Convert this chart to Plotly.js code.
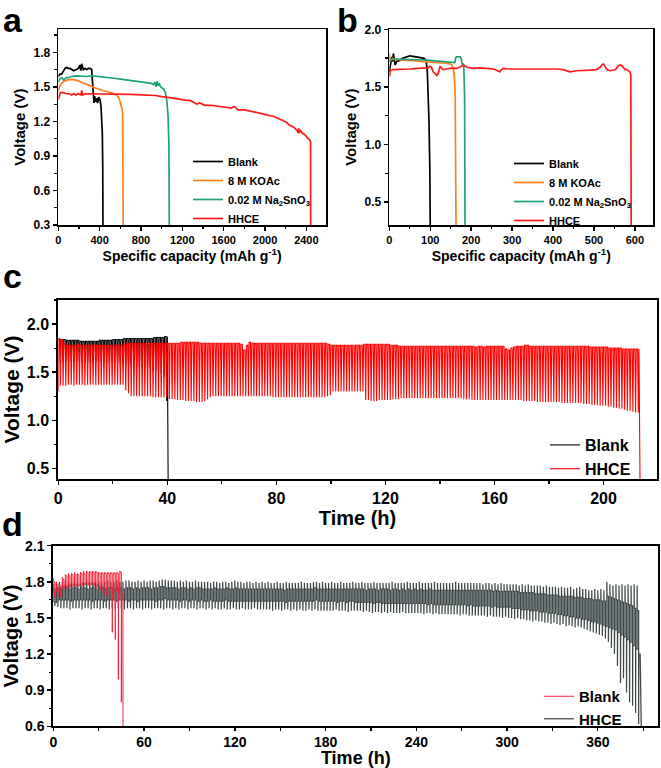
<!DOCTYPE html>
<html><head><meta charset="utf-8">
<script src="https://cdn.plot.ly/plotly-3.0.1.min.js"></script>
<style>html,body{margin:0;padding:0;background:#fff}#chart{width:661px;height:768px}</style>
</head><body><div id="chart"></div>
<script>
// ===== Panel a: voltage vs specific capacity =====
const aBlankCap = [0,15,32,50,65,81,95,113,130,150,177,195,210,218,226,242,260,275,290,306,323,330,339,345,352,360,371,380,390,403,413,420,426,430,432];
const aBlankV   = [1.59,1.61,1.61,1.64,1.66,1.67,1.66,1.66,1.65,1.64,1.65,1.66,1.69,1.64,1.70,1.65,1.66,1.65,1.66,1.66,1.65,1.55,1.41,1.36,1.42,1.37,1.40,1.36,1.41,1.39,1.33,1.25,1.10,0.80,0.30];
const aKOAcCap  = [0,10,32,60,90,130,160,200,250,300,360,420,480,530,560,580,595,605,615,622,626,628];
const aKOAcV    = [1.46,1.50,1.53,1.55,1.56,1.565,1.56,1.55,1.53,1.51,1.49,1.47,1.455,1.445,1.43,1.41,1.38,1.35,1.31,1.27,0.90,0.30];
const aNaCap    = [0,15,32,50,64,80,96,130,177,230,270,330,400,470,540,620,700,760,820,870,900,920,935,945,955,965,975,990,1005,1020,1036,1050,1062,1070,1074];
const aNaV      = [1.54,1.57,1.58,1.56,1.57,1.58,1.58,1.59,1.595,1.59,1.59,1.595,1.59,1.58,1.575,1.565,1.555,1.55,1.54,1.535,1.53,1.52,1.54,1.50,1.55,1.51,1.53,1.50,1.49,1.48,1.45,1.38,1.25,1.00,0.30];
const aHHCECap  = [0,10,20,48,80,110,127,150,170,190,207,220,226,235,260,300,360,400,460,526,600,700,800,876,940,1004,1060,1099,1160,1227,1280,1322,1340,1370,1418,1480,1546,1600,1673,1700,1740,1800,1860,1928,1980,2024,2080,2119,2160,2183,2210,2231,2255,2278,2300,2310,2320,2326,2332,2345,2358,2375,2390,2406,2420,2432,2440,2442];
const aHHCEV    = [1.39,1.43,1.45,1.45,1.44,1.44,1.43,1.44,1.43,1.44,1.43,1.43,1.47,1.43,1.44,1.44,1.44,1.44,1.435,1.44,1.435,1.435,1.43,1.43,1.425,1.415,1.41,1.40,1.395,1.385,1.38,1.36,1.35,1.36,1.34,1.34,1.33,1.32,1.315,1.33,1.30,1.30,1.29,1.275,1.265,1.255,1.245,1.23,1.215,1.20,1.19,1.17,1.16,1.15,1.13,1.125,1.10,1.14,1.10,1.12,1.10,1.09,1.08,1.06,1.05,1.04,1.02,0.30];

// ===== Panel b =====
const bBlankCap = [0,3,6,8,10,12,14,18,26,34,42,50,58,67,75,83,88,91,93,95,97,99,100];
const bBlankV   = [1.63,1.70,1.76,1.72,1.79,1.74,1.69,1.72,1.73,1.75,1.76,1.77,1.765,1.76,1.755,1.75,1.74,1.70,1.62,1.45,1.20,0.80,0.30];
const bKOAcCap  = [0,2,4,10,18,30,42,55,67,80,91,104,116,128,140,148,153,157,159,161,162,163];
const bKOAcV    = [1.79,1.72,1.74,1.74,1.74,1.735,1.73,1.73,1.725,1.72,1.72,1.715,1.71,1.71,1.705,1.70,1.69,1.65,1.58,1.42,1.00,0.30];
const bNaCap    = [0,4,8,14,24,34,50,67,83,99,115,124,136,148,156,160,162,164,168,173,176,178,180,182,184,185];
const bNaV      = [1.72,1.73,1.75,1.74,1.74,1.74,1.74,1.74,1.735,1.73,1.725,1.725,1.72,1.72,1.715,1.71,1.75,1.76,1.76,1.76,1.74,1.70,1.70,1.69,1.40,0.30];
const bHHCECap  = [0,3,8,18,34,50,67,83,95,99,103,107,112,116,120,124,128,132,140,150,164,172,181,190,205,220,238,255,265,270,274,278,290,311,330,344,360,376,392,409,425,441,458,474,490,506,515,519,523,527,531,539,547,553,559,564,568,572,576,580,584,588,590,591];
const bHHCEV    = [1.59,1.64,1.65,1.65,1.655,1.655,1.66,1.66,1.665,1.68,1.67,1.63,1.61,1.60,1.62,1.68,1.66,1.65,1.655,1.66,1.66,1.67,1.69,1.67,1.66,1.665,1.66,1.655,1.64,1.63,1.65,1.66,1.655,1.655,1.66,1.66,1.66,1.66,1.655,1.655,1.65,1.63,1.64,1.64,1.645,1.65,1.67,1.69,1.70,1.68,1.65,1.64,1.645,1.65,1.68,1.69,1.685,1.67,1.65,1.65,1.64,1.63,1.60,0.30];

// ===== Panel c: cycling, one entry per 1 h cycle (upper plateau / lower dip) =====
const cPeriod = 1;
const cBlankTop = [1.84,1.84,1.84,1.83,1.83,1.83,1.83,1.83,1.82,1.82, 1.82,1.82,1.82,1.82,1.82,1.83,1.83,1.83,1.83,1.83,
  1.84,1.84,1.84,1.84,1.85,1.85,1.85,1.85,1.85,1.85, 1.85,1.85,1.85,1.85,1.85,1.86,1.86,1.86,1.86,1.87];
const cBlankBot = [1.60,1.61,1.61,1.61,1.61,1.60,1.61,1.61,1.60,1.60, 1.60,1.60,1.60,1.60,1.60,1.60,1.60,1.60,1.60,1.60,
  1.60,1.60,1.59,1.59,1.58,1.57,1.56,1.56,1.56,1.55, 1.55,1.55,1.54,1.53,1.52,1.51,1.50,1.48,1.45,1.20];
const cBlankEnd = [40.3, 0.30];
const cHHCEStart = 1.30;
const cHHCETop = [
  1.85,1.84,1.80,1.78,1.78,1.78,1.78,1.79,1.78,1.78, 1.78,1.78,1.78,1.79,1.78,1.78,1.78,1.78,1.78,1.78,
  1.78,1.78,1.78,1.78,1.79,1.80,1.80,1.80,1.80,1.80, 1.80,1.80,1.80,1.80,1.80,1.80,1.80,1.80,1.80,1.80,
  1.80,1.80,1.80,1.80,1.80,1.81,1.81,1.81,1.81,1.81, 1.81,1.81,1.80,1.80,1.80,1.80,1.80,1.80,1.80,1.80,
  1.80,1.80,1.80,1.80,1.80,1.80,1.80,1.79,1.73,1.78, 1.81,1.80,1.80,1.80,1.80,1.80,1.80,1.80,1.80,1.80,
  1.80,1.80,1.80,1.80,1.80,1.80,1.80,1.80,1.80,1.80, 1.80,1.80,1.80,1.80,1.80,1.80,1.80,1.80,1.80,1.79,
  1.78,1.78,1.78,1.78,1.78,1.78,1.78,1.78,1.78,1.78, 1.78,1.78,1.79,1.79,1.79,1.79,1.79,1.79,1.79,1.79,
  1.79,1.79,1.78,1.78,1.78,1.77,1.77,1.77,1.77,1.77, 1.77,1.77,1.77,1.77,1.77,1.77,1.77,1.77,1.77,1.77,
  1.77,1.77,1.77,1.77,1.77,1.77,1.77,1.77,1.77,1.77, 1.77,1.77,1.77,1.76,1.77,1.77,1.76,1.77,1.77,1.77,
  1.77,1.77,1.77,1.77,1.74,1.73,1.75,1.76,1.77,1.77, 1.77,1.78,1.78,1.77,1.77,1.77,1.77,1.77,1.77,1.77,
  1.77,1.77,1.77,1.77,1.77,1.77,1.77,1.77,1.77,1.77, 1.77,1.77,1.77,1.77,1.77,1.76,1.76,1.76,1.76,1.76,
  1.76,1.76,1.75,1.75,1.75,1.75,1.75,1.74,1.74,1.74, 1.74,1.74,1.74];
const cHHCEBot = [
  1.36,1.36,1.36,1.37,1.37,1.36,1.37,1.37,1.37,1.36, 1.37,1.37,1.37,1.37,1.37,1.37,1.37,1.37,1.37,1.37,
  1.37,1.37,1.37,1.37,1.31,1.28,1.25,1.25,1.25,1.25, 1.25,1.25,1.25,1.25,1.24,1.24,1.24,1.24,1.24,1.24,
  1.22,1.22,1.22,1.21,1.21,1.21,1.20,1.20,1.20,1.20, 1.19,1.19,1.19,1.20,1.22,1.24,1.25,1.25,1.25,1.25,
  1.25,1.25,1.25,1.25,1.25,1.25,1.25,1.25,1.25,1.25, 1.25,1.25,1.25,1.25,1.25,1.25,1.25,1.25,1.24,1.24,
  1.24,1.24,1.24,1.24,1.24,1.24,1.24,1.24,1.24,1.24, 1.24,1.24,1.24,1.24,1.24,1.24,1.24,1.24,1.25,1.26,
  1.30,1.30,1.30,1.30,1.30,1.30,1.30,1.30,1.30,1.30, 1.30,1.30,1.21,1.21,1.20,1.20,1.20,1.21,1.21,1.21,
  1.21,1.21,1.22,1.22,1.22,1.23,1.23,1.23,1.23,1.23, 1.23,1.23,1.23,1.23,1.23,1.23,1.23,1.23,1.23,1.23,
  1.23,1.23,1.23,1.23,1.23,1.23,1.23,1.23,1.22,1.22, 1.22,1.21,1.21,1.21,1.21,1.21,1.21,1.21,1.21,1.21,
  1.21,1.21,1.21,1.21,1.21,1.21,1.21,1.21,1.21,1.21, 1.20,1.20,1.20,1.20,1.20,1.19,1.19,1.19,1.19,1.19,
  1.19,1.19,1.19,1.19,1.18,1.18,1.18,1.18,1.18,1.18, 1.18,1.18,1.17,1.17,1.17,1.16,1.16,1.16,1.15,1.15,
  1.15,1.14,1.14,1.13,1.13,1.12,1.12,1.11,1.10,1.10, 1.09,1.08,1.08];
const cHHCEEnd = [213.4, 0.30];

// ===== Panel d: cycling, one entry per 2 h cycle =====
const dPeriod = 2;
const dBlankUp    = [1.83,1.80,1.79,1.84,1.86,1.87,1.87,1.88,1.87,1.88,1.89,1.89,1.89,1.89,1.89,1.88,1.88,1.88,1.88,1.88,1.88,1.88,1.89];
const dBlankCh    = [1.80,1.78,1.77,1.82,1.85,1.85,1.86,1.86,1.86,1.87,1.87,1.88,1.88,1.88,1.88,1.87,1.87,1.87,1.87,1.87,1.87,1.87,1.88];
const dBlankLow   = [1.67,1.68,1.67,1.74,1.75,1.75,1.76,1.76,1.76,1.76,1.77,1.77,1.77,1.76,1.75,1.73,1.71,1.69,1.68,1.38,1.32,0.99,0.80];
const dBlankDis   = [1.72,1.72,1.74,1.77,1.77,1.78,1.78,1.78,1.78,1.79,1.79,1.79,1.79,1.79,1.78,1.77,1.76,1.75,1.74,1.73,1.72,1.70,1.70];
const dBlankEnd   = [46.1, 0.55];
const dHHCEUp = [
  1.78,1.79,1.80,1.80,1.81,1.80,1.80,1.81,1.80,1.80, 1.80,1.81,1.80,1.80,1.81,1.80,1.80,1.80,1.81,1.80,
  1.80,1.81,1.80,1.80,1.81,1.81,1.80,1.80,1.81,1.80, 1.81,1.80,1.81,1.81,1.80,1.81,1.82,1.82,1.81,1.81,
  1.81,1.80,1.81,1.80,1.81,1.80,1.80,1.81,1.80,1.80, 1.80,1.80,1.79,1.80,1.80,1.79,1.80,1.80,1.79,1.80,
  1.81,1.80,1.80,1.79,1.80,1.80,1.79,1.80,1.79,1.80, 1.79,1.80,1.79,1.79,1.80,1.79,1.79,1.80,1.79,1.79,
  1.79,1.79,1.80,1.79,1.79,1.79,1.80,1.80,1.79,1.80, 1.79,1.79,1.80,1.79,1.79,1.80,1.79,1.79,1.79,1.80,
  1.79,1.79,1.80,1.79,1.79,1.79,1.80,1.79,1.79,1.79, 1.79,1.79,1.80,1.79,1.79,1.79,1.79,1.80,1.79,1.79,
  1.79,1.80,1.79,1.79,1.79,1.79,1.80,1.79,1.79,1.79, 1.79,1.79,1.79,1.80,1.79,1.79,1.79,1.79,1.79,1.79,
  1.79,1.79,1.78,1.79,1.79,1.78,1.79,1.78,1.79,1.78, 1.78,1.78,1.78,1.78,1.77,1.78,1.77,1.78,1.77,1.77,
  1.77,1.77,1.76,1.77,1.76,1.76,1.76,1.75,1.76,1.75, 1.75,1.76,1.74,1.75,1.76,1.74,1.74,1.73,1.73,1.74,
  1.73,1.74,1.73,1.80,1.78,1.77,1.78,1.77,1.78,1.77, 1.78,1.77,1.78,1.77];
const dHHCECh = [
  1.74,1.75,1.75,1.75,1.75,1.74,1.75,1.75,1.74,1.75, 1.75,1.74,1.75,1.75,1.74,1.75,1.75,1.74,1.75,1.75,
  1.74,1.75,1.75,1.74,1.75,1.75,1.74,1.75,1.74,1.75, 1.75,1.75,1.74,1.75,1.75,1.76,1.76,1.75,1.75,1.75,
  1.75,1.74,1.75,1.75,1.74,1.75,1.74,1.75,1.75,1.74, 1.74,1.74,1.74,1.75,1.74,1.74,1.74,1.75,1.74,1.74,
  1.75,1.74,1.74,1.74,1.74,1.74,1.74,1.74,1.74,1.74, 1.74,1.74,1.74,1.74,1.74,1.74,1.73,1.74,1.74,1.74,
  1.74,1.74,1.74,1.74,1.74,1.74,1.75,1.74,1.74,1.74, 1.74,1.74,1.74,1.74,1.74,1.74,1.74,1.74,1.74,1.74,
  1.74,1.74,1.74,1.73,1.74,1.74,1.74,1.73,1.74,1.74, 1.74,1.73,1.74,1.74,1.73,1.74,1.73,1.74,1.73,1.74,
  1.73,1.74,1.73,1.73,1.74,1.73,1.73,1.73,1.73,1.73, 1.73,1.73,1.73,1.73,1.73,1.73,1.73,1.73,1.73,1.73,
  1.73,1.73,1.73,1.73,1.73,1.72,1.73,1.72,1.72,1.72, 1.72,1.72,1.72,1.72,1.71,1.71,1.71,1.71,1.71,1.70,
  1.70,1.70,1.70,1.69,1.69,1.69,1.69,1.68,1.68,1.68, 1.68,1.68,1.67,1.67,1.67,1.66,1.66,1.66,1.65,1.65,
  1.65,1.64,1.64,1.68,1.67,1.66,1.65,1.64,1.63,1.62, 1.61,1.60,1.58,1.56];
const dHHCELow = [
  1.60,1.59,1.58,1.58,1.58,1.57,1.58,1.58,1.58,1.57, 1.58,1.58,1.57,1.58,1.58,1.57,1.58,1.58,1.57,1.58,
  1.57,1.58,1.58,1.57,1.58,1.58,1.57,1.58,1.58,1.57, 1.58,1.58,1.57,1.58,1.58,1.58,1.57,1.58,1.58,1.57,
  1.58,1.57,1.58,1.58,1.57,1.58,1.58,1.57,1.58,1.58, 1.57,1.58,1.57,1.58,1.57,1.57,1.58,1.57,1.57,1.58,
  1.57,1.57,1.58,1.57,1.57,1.57,1.58,1.57,1.57,1.57, 1.57,1.57,1.56,1.57,1.57,1.56,1.57,1.57,1.56,1.57,
  1.56,1.57,1.56,1.56,1.57,1.56,1.57,1.56,1.56,1.56, 1.56,1.56,1.56,1.57,1.56,1.56,1.56,1.55,1.56,1.56,
  1.56,1.56,1.55,1.56,1.55,1.54,1.55,1.55,1.54,1.55, 1.54,1.55,1.54,1.54,1.54,1.55,1.54,1.54,1.54,1.54,
  1.54,1.54,1.53,1.54,1.54,1.53,1.54,1.53,1.53,1.53, 1.53,1.53,1.53,1.53,1.52,1.53,1.53,1.52,1.52,1.52,
  1.52,1.52,1.52,1.51,1.52,1.51,1.51,1.51,1.50,1.51, 1.50,1.50,1.49,1.50,1.49,1.49,1.48,1.48,1.47,1.48,
  1.47,1.47,1.46,1.46,1.45,1.46,1.45,1.44,1.45,1.43, 1.44,1.43,1.42,1.43,1.42,1.41,1.40,1.39,1.38,1.37,
  1.36,1.35,1.33,1.30,1.25,1.20,1.10,0.96,1.00,0.88, 0.80,0.77,0.71,0.62];
const dHHCEDis = [
  1.63,1.65,1.65,1.65,1.65,1.64,1.65,1.65,1.65,1.65, 1.65,1.65,1.64,1.65,1.65,1.65,1.64,1.65,1.65,1.65,
  1.64,1.65,1.65,1.65,1.64,1.65,1.65,1.64,1.65,1.65, 1.65,1.65,1.65,1.64,1.65,1.65,1.66,1.65,1.65,1.65,
  1.65,1.64,1.65,1.65,1.64,1.65,1.65,1.64,1.65,1.64, 1.64,1.65,1.64,1.64,1.64,1.64,1.65,1.64,1.64,1.64,
  1.64,1.64,1.64,1.64,1.64,1.64,1.64,1.64,1.64,1.64, 1.64,1.64,1.64,1.64,1.64,1.64,1.63,1.64,1.64,1.64,
  1.64,1.64,1.64,1.64,1.64,1.64,1.65,1.64,1.64,1.64, 1.64,1.64,1.64,1.63,1.64,1.64,1.63,1.64,1.64,1.63,
  1.63,1.63,1.63,1.63,1.63,1.62,1.63,1.63,1.62,1.62, 1.62,1.62,1.62,1.62,1.62,1.62,1.62,1.62,1.62,1.62,
  1.62,1.62,1.62,1.61,1.62,1.61,1.61,1.61,1.61,1.61, 1.61,1.61,1.61,1.61,1.61,1.61,1.60,1.61,1.60,1.60,
  1.60,1.60,1.60,1.60,1.59,1.60,1.59,1.59,1.59,1.59, 1.59,1.58,1.58,1.58,1.57,1.57,1.57,1.56,1.56,1.56,
  1.55,1.55,1.55,1.54,1.54,1.54,1.53,1.53,1.52,1.52, 1.51,1.51,1.50,1.50,1.49,1.49,1.48,1.47,1.47,1.46,
  1.45,1.44,1.43,1.42,1.41,1.40,1.38,1.36,1.34,1.32, 1.30,1.27,1.24,1.20];
const dHHCEEnd = [388.8, 0.55];

// ===== builders (turn per-cycle readings into polyline through data coords) =====
function dipCycles(start, tops, bots, P, endPt){
  const x = [], y = [];
  if (start !== null){ x.push(0); y.push(start); }
  for (let i = 0; i < tops.length; i++){
    const t = i * P;
    x.push(t, t + 0.5*P, t + 0.75*P);
    y.push(tops[i], tops[i], bots[i]);
  }
  x.push(tops.length * P, endPt[0]);
  y.push(tops[tops.length-1], endPt[1]);
  return {x, y};
}
function plateauCycles(up, ch, low, dis, P, endPt){
  const x = [0], y = [dis[0]];
  for (let i = 0; i < up.length; i++){
    const t = i * P;
    x.push(t, t + 0.06*P, t + 0.5*P, t + 0.5*P, t + 0.56*P, t + P);
    y.push(up[i], ch[i], ch[i], low[i], dis[i], dis[i]);
  }
  x.push(endPt[0]); y.push(endPt[1]);
  return {x, y};
}

const F = 'Liberation Sans, Arial, Helvetica, sans-serif';
const cBlank = dipCycles(null, cBlankTop, cBlankBot, cPeriod, cBlankEnd);
const cHHCE  = dipCycles(cHHCEStart, cHHCETop, cHHCEBot, cPeriod, cHHCEEnd);
const dBlank = plateauCycles(dBlankUp, dBlankCh, dBlankLow, dBlankDis, dPeriod, dBlankEnd);
const dHHCE  = plateauCycles(dHHCEUp, dHHCECh, dHHCELow, dHHCEDis, dPeriod, dHHCEEnd);

const colBlack = '#000000', colOrange = '#ff7f1e', colGreen = '#1ea37a', colRed = '#ff1a1a';
const lw = 1.7;
const traces = [
  {x:aBlankCap, y:aBlankV, name:'Blank', mode:'lines', line:{color:colBlack, width:lw}, xaxis:'x', yaxis:'y', legend:'legend'},
  {x:aKOAcCap, y:aKOAcV, name:'8 M KOAc', mode:'lines', line:{color:colOrange, width:lw}, xaxis:'x', yaxis:'y', legend:'legend'},
  {x:aNaCap, y:aNaV, name:'0.02 M Na<sub>2</sub>SnO<sub>3</sub>', mode:'lines', line:{color:colGreen, width:lw}, xaxis:'x', yaxis:'y', legend:'legend'},
  {x:aHHCECap, y:aHHCEV, name:'HHCE', mode:'lines', line:{color:colRed, width:lw}, xaxis:'x', yaxis:'y', legend:'legend'},

  {x:bBlankCap, y:bBlankV, name:'Blank', mode:'lines', line:{color:colBlack, width:lw}, xaxis:'x2', yaxis:'y2', legend:'legend2'},
  {x:bKOAcCap, y:bKOAcV, name:'8 M KOAc', mode:'lines', line:{color:colOrange, width:lw}, xaxis:'x2', yaxis:'y2', legend:'legend2'},
  {x:bNaCap, y:bNaV, name:'0.02 M Na<sub>2</sub>SnO<sub>3</sub>', mode:'lines', line:{color:colGreen, width:lw}, xaxis:'x2', yaxis:'y2', legend:'legend2'},
  {x:bHHCECap, y:bHHCEV, name:'HHCE', mode:'lines', line:{color:colRed, width:lw}, xaxis:'x2', yaxis:'y2', legend:'legend2'},

  {x:cBlank.x, y:cBlank.y, name:'Blank', mode:'lines', line:{color:'#000', width:1.1}, xaxis:'x3', yaxis:'y3', legend:'legend3'},
  {x:cHHCE.x, y:cHHCE.y, name:'HHCE', mode:'lines', line:{color:'#ff0000', width:1.1}, xaxis:'x3', yaxis:'y3', legend:'legend3'},

  {x:dHHCE.x, y:dHHCE.y, name:'HHCE', mode:'lines', line:{color:'#3e4848', width:1.25}, xaxis:'x4', yaxis:'y4', legend:'legend4'},
  {x:dBlank.x, y:dBlank.y, name:'Blank', mode:'lines', line:{color:'#f2223a', width:1}, xaxis:'x4', yaxis:'y4', legend:'legend4'}
];

function axis(o, fs){
  const base = {showline:true, mirror:true, linecolor:'#000', linewidth:1.6, ticks:'outside', ticklen:4, tickwidth:1.4, tickcolor:'#000',
    showgrid:false, zeroline:false, fixedrange:true,
    tickfont:{family:F, size:fs, color:'#000', weight:'bold'},
    minor:{ticks:'outside', ticklen:2.5, tickwidth:1.2, tickcolor:'#000', showgrid:false}};
  const r = Object.assign(base, o);
  if (o.minorD) { r.minor = Object.assign({}, base.minor, {dtick:o.minorD}); delete r.minorD; }
  return r;
}
function ttl(text, size, standoff){ return {text:text, font:{family:F, size:size, color:'#000', weight:'bold'}, standoff:standoff}; }
function leg(x, y, size, extra){
  return Object.assign({x:x, y:y, xanchor:'left', yanchor:'top', xref:'paper', yref:'paper', bgcolor:'rgba(0,0,0,0)', borderwidth:0,
    font:{family:F, size:size, color:'#000', weight:'bold'}, tracegroupgap:0}, extra||{});
}
const W = 661, H = 768;
const px = v => v / W, py = v => 1 - v / H;

const layout = {
  width:W, height:H, margin:{l:0, r:0, t:0, b:0}, paper_bgcolor:'#fff', plot_bgcolor:'#fff', showlegend:true,
  xaxis: axis({domain:[px(58.3), px(326)], anchor:'y', range:[0, 2590], tick0:0, dtick:400, minorD:200, title:ttl('Specific capacity (mAh g<sup>-1</sup>)', 14, 3)}, 11),
  yaxis: axis({domain:[py(225), py(29.3)], anchor:'x', range:[0.3, 2.0], tick0:0.3, dtick:0.3, minorD:0.15, tickformat:'.1f', title:ttl('Voltage (V)', 15, 4)}, 12),
  xaxis2: axis({domain:[px(389.3), px(653.3)], anchor:'y2', range:[0, 645], tick0:0, dtick:100, minorD:50, title:ttl('Specific capacity (mAh g<sup>-1</sup>)', 14, 3)}, 11),
  yaxis2: axis({domain:[py(225), py(29.3)], anchor:'x2', range:[0.3, 2.0], tick0:0.5, dtick:0.5, minorD:0.25, tickformat:'.1f', title:ttl('Voltage (V)', 15, 4)}, 12),
  xaxis3: axis({domain:[px(58.3), px(656.7)], anchor:'y3', range:[0, 219.5], tick0:0, dtick:40, minorD:20, linewidth:2, title:ttl('Time (h)', 20, 0)}, 16),
  yaxis3: axis({domain:[py(479), py(300)], anchor:'x3', range:[0.39, 2.25], tick0:0.5, dtick:0.5, minorD:0.25, linewidth:2, tickformat:'.1f', title:ttl('Voltage (V)', 21, 2)}, 16),
  xaxis4: axis({domain:[px(53.3), px(658.3)], anchor:'y4', range:[0, 400], tick0:0, dtick:60, minorD:30, linewidth:2, ticklen:3, ticklabelstandoff:-1, title:ttl('Time (h)', 18, 2)}, 14),
  yaxis4: axis({domain:[py(726.3), py(545.7)], anchor:'x4', range:[0.6, 2.1], tick0:0.6, dtick:0.3, minorD:0.15, linewidth:2, tickformat:'.1f', title:ttl('Voltage (V)', 20, 2)}, 14),
  legend:  leg(px(188), py(147), 11),
  legend2: leg(px(509), py(149), 11),
  legend3: leg(px(545), py(428), 16),
  legend4: leg(px(539), py(680), 15, {traceorder:'reversed'}),
  annotations: [
    {text:'a', x:px(1), y:py(20), xref:'paper', yref:'paper', xanchor:'left', yanchor:'middle', showarrow:false, font:{family:F, size:34, weight:'bold', color:'#000'}},
    {text:'b', x:px(335), y:py(20), xref:'paper', yref:'paper', xanchor:'left', yanchor:'middle', showarrow:false, font:{family:F, size:34, weight:'bold', color:'#000'}},
    {text:'c', x:px(1), y:py(276), xref:'paper', yref:'paper', xanchor:'left', yanchor:'middle', showarrow:false, font:{family:F, size:34, weight:'bold', color:'#000'}},
    {text:'d', x:px(0), y:py(524), xref:'paper', yref:'paper', xanchor:'left', yanchor:'middle', showarrow:false, font:{family:F, size:34, weight:'bold', color:'#000'}}
  ]
};

Plotly.newPlot('chart', traces, layout, {displayModeBar:false, staticPlot:true});
</script>
</body></html>
